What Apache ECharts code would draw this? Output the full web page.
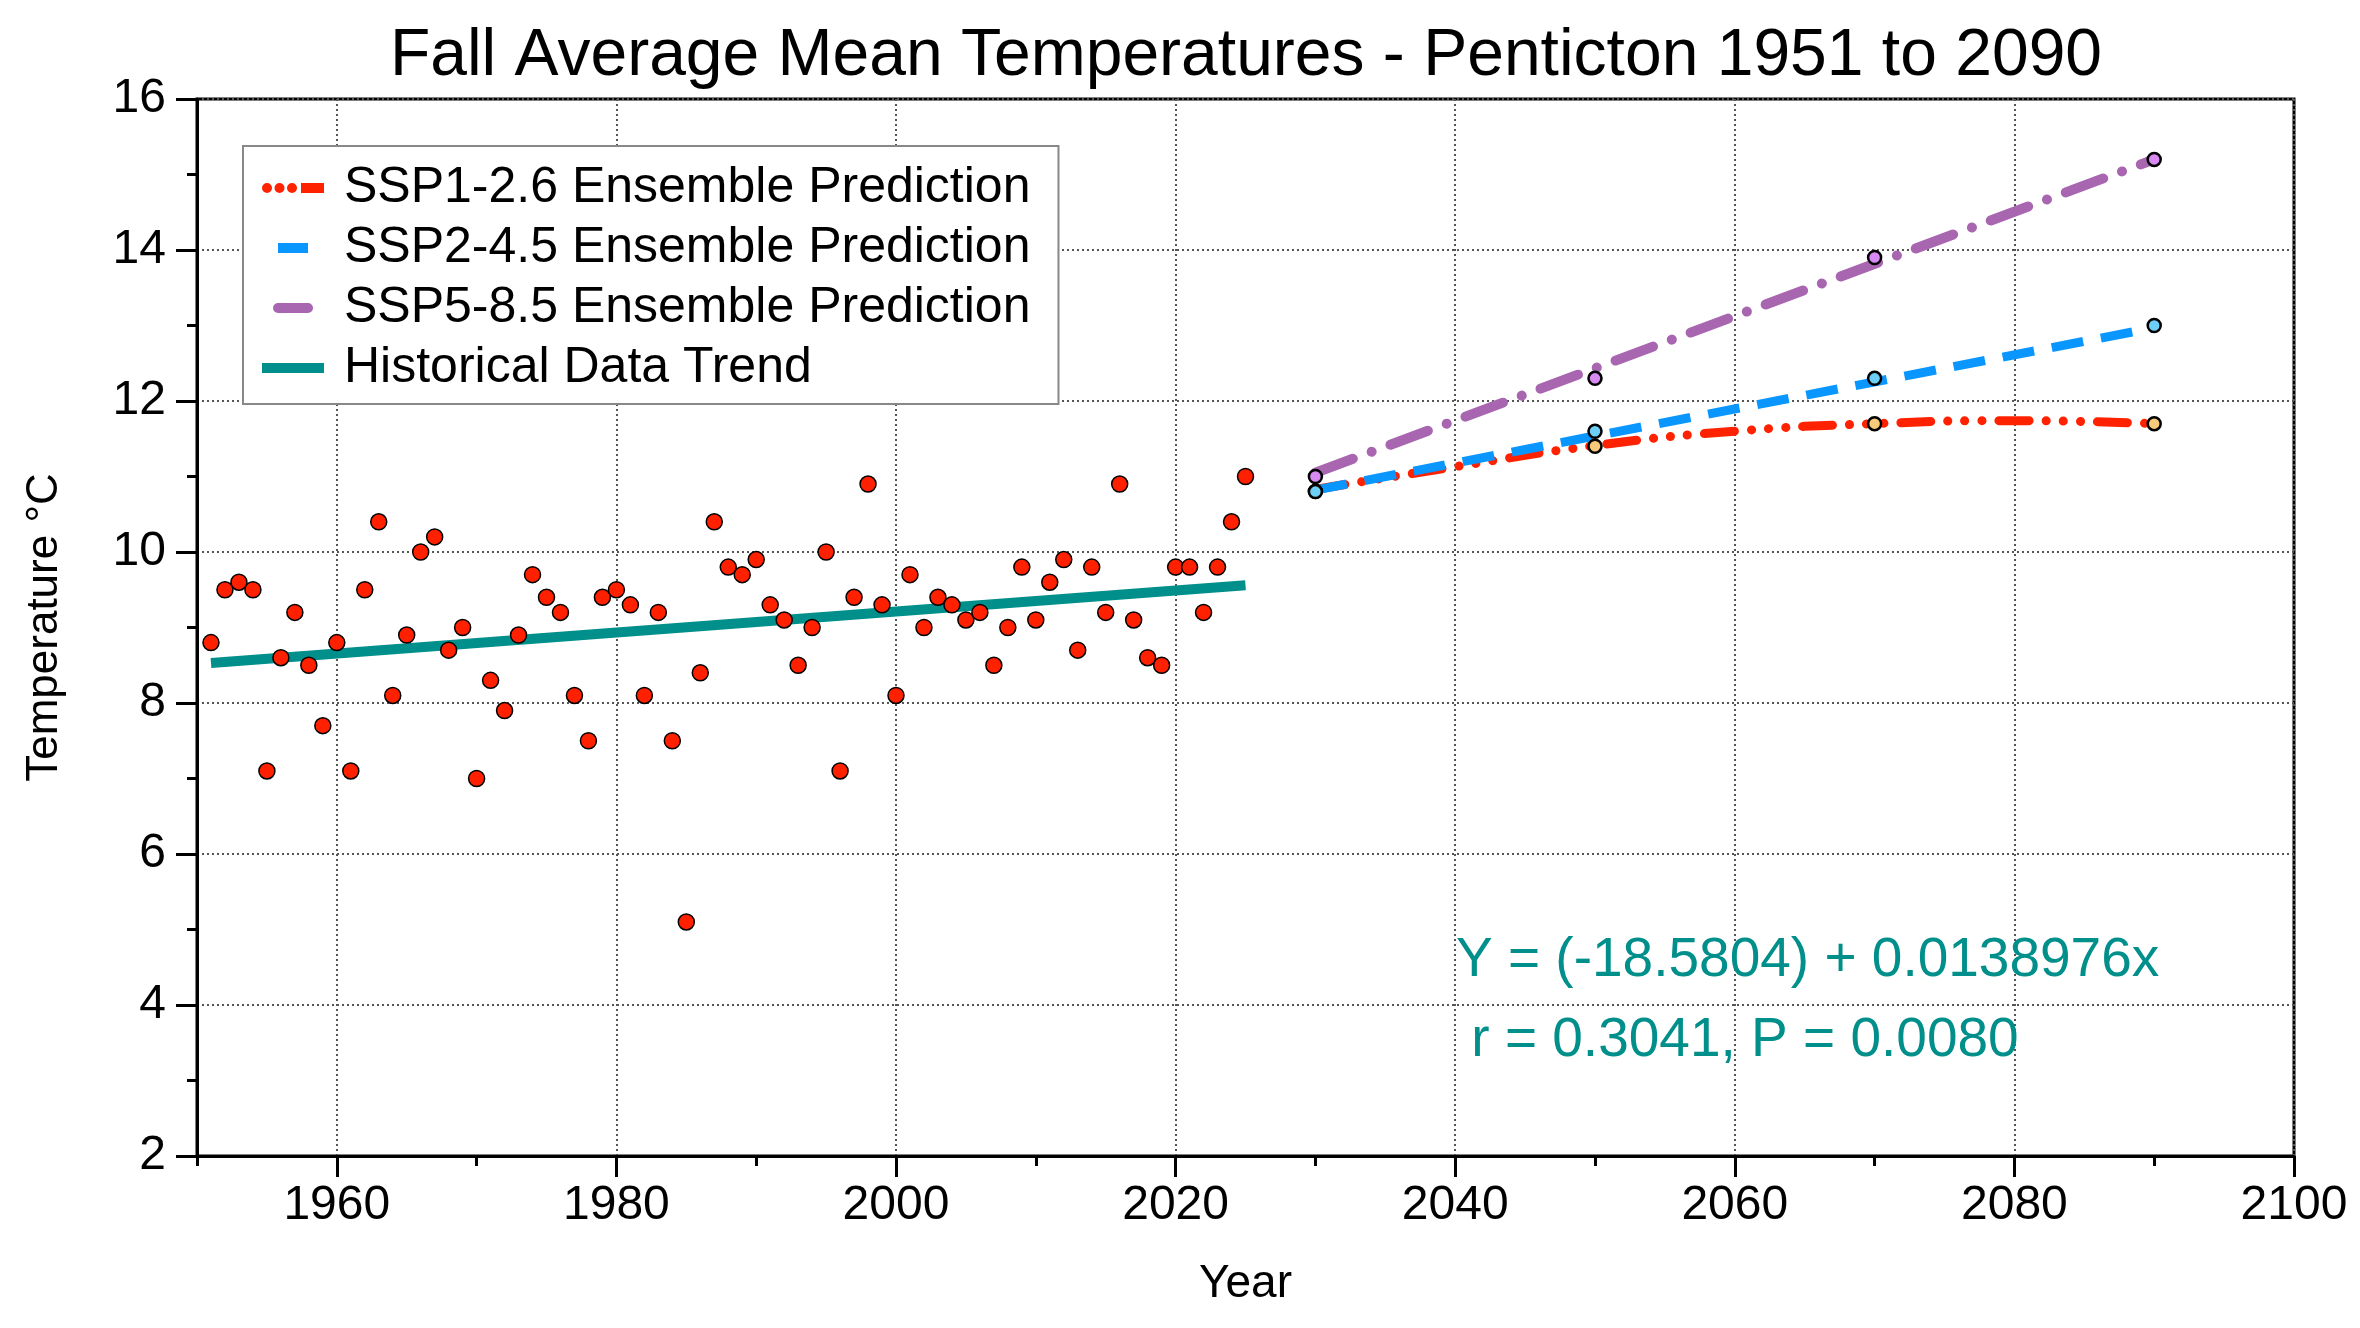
<!DOCTYPE html>
<html>
<head>
<meta charset="utf-8">
<style>
  html, body { margin: 0; padding: 0; background: #fff; }
  #chart { width: 2360px; height: 1328px; }
</style>
<script src="https://cdn.jsdelivr.net/npm/echarts@6/dist/echarts.min.js"></script>
</head>
<body>
<div id="chart"></div>
<script>
// ---------- data ----------
const histYears = [1951,1952,1953,1954,1955,1956,1957,1958,1959,1960,
  1961,1962,1963,1964,1965,1966,1967,1968,1969,1970,
  1971,1972,1973,1974,1975,1976,1977,1978,1979,1980,
  1981,1982,1983,1984,1985,1986,1987,1988,1989,1990,
  1991,1992,1993,1994,1995,1996,1997,1998,1999,2000,
  2001,2002,2003,2004,2005,2006,2007,2008,2009,2010,
  2011,2012,2013,2014,2015,2016,2017,2018,2019,2020,
  2021,2022,2023,2024,2025];
const histTemps = [8.8,9.5,9.6,9.5,7.1,8.6,9.2,8.5,7.7,8.8,
  7.1,9.5,10.4,8.1,8.9,10.0,10.2,8.7,9.0,7.0,
  8.3,7.9,8.9,9.7,9.4,9.2,8.1,7.5,9.4,9.5,
  9.3,8.1,9.2,7.5,5.1,8.4,10.4,9.8,9.7,9.9,
  9.3,9.1,8.5,9.0,10.0,7.1,9.4,10.9,9.3,8.1,
  9.7,9.0,9.4,9.3,9.1,9.2,8.5,9.0,9.8,9.1,
  9.6,9.9,8.7,9.8,9.2,10.9,9.1,8.6,8.5,9.8,
  9.8,9.2,9.8,10.4,11.0];

const trendYears = [1951, 2025];
const trendTemps = [8.53, 9.56];

const projYears = [2030, 2050, 2070, 2090];
const ssp126Points = [10.8, 11.4, 11.7, 11.7];
const ssp245Points = [10.8, 11.6, 12.3, 13.0];
const ssp585Points = [11.0, 12.3, 13.9, 15.2];

const ssp126FitYears = [2030, 2040, 2050, 2060, 2070, 2080, 2090];
const ssp126FitTemps = [10.83, 11.13, 11.41, 11.6, 11.7, 11.74, 11.7];
const ssp245FitYears = [2030, 2090];
const ssp245FitTemps = [10.82, 12.97];
const ssp585FitYears = [2030, 2090];
const ssp585FitTemps = [11.05, 15.2];

const xMajorTicks = [1960, 1980, 2000, 2020, 2040, 2060, 2080, 2100];

const titleText = 'Fall Average Mean Temperatures - Penticton 1951 to 2090';
const eqLine1 = 'Y = (-18.5804) + 0.0138976x';
const eqLine2 = ' r = 0.3041, P = 0.0080';

const names = {
  s1: 'SSP1-2.6 Ensemble Prediction',
  s2: 'SSP2-4.5 Ensemble Prediction',
  s5: 'SSP5-8.5 Ensemble Prediction',
  hist: 'Historical Data Trend'
};

// ---------- build ----------
const zip = (xs, ys) => xs.map((x, i) => [x, ys[i]]);
const FONT = "'Liberation Sans', Arial, Helvetica, sans-serif";

// legend icon shapes (62 x 10 box; tiny corner specks keep the full box)
const bounds = 'M0,0 L0.01,0 L0,0.01 Z M62,10 L61.99,10 L62,9.99 Z ';
const iconS1 = 'path://M0,5 a5,5 0 1,0 10,0 a5,5 0 1,0 -10,0 Z M12.5,5 a5,5 0 1,0 10,0 a5,5 0 1,0 -10,0 Z M25,5 a5,5 0 1,0 10,0 a5,5 0 1,0 -10,0 Z M39,0 L62,0 L62,10 L39,10 Z';
const iconS2 = 'path://' + bounds + 'M16,0 L46,0 L46,10 L16,10 Z';
const iconS5 = 'path://' + bounds + 'M16,0 L46,0 A5,5 0 0,1 46,10 L16,10 A5,5 0 0,1 16,0 Z';
const iconH = 'path://M0,0 L62,0 L62,10 L0,10 Z';

const chart = echarts.init(document.getElementById('chart'), null, { renderer: 'canvas' });

const gridLine = { color: '#555', width: 2, type: [2, 3] };

const option = {
  backgroundColor: '#fff',
  animation: false,
  textStyle: { fontFamily: FONT },
  grid: { left: 197, right: 66, top: 99, bottom: 172, show: true, borderColor: '#000', borderWidth: 3, backgroundColor: 'transparent' },
  legend: {
    orient: 'vertical',
    left: 243, top: 146,
    padding: [17, 28, 11, 19],
    itemGap: 10,
    itemWidth: 62, itemHeight: 10,
    backgroundColor: '#fff',
    borderColor: '#888', borderWidth: 2, borderRadius: 0,
    data: [
      { name: names.s1, icon: iconS1, itemStyle: { color: '#ff2200' } },
      { name: names.s2, icon: iconS2, itemStyle: { color: '#0a96ff' } },
      { name: names.s5, icon: iconS5, itemStyle: { color: '#a865b0' } },
      { name: names.hist, icon: iconH, itemStyle: { color: '#008f8a' } }
    ],
    textStyle: { fontSize: 50, lineHeight: 50, color: '#000', fontFamily: FONT, padding: [0, 0, 0, 15] }
  },
  xAxis: [{
    type: 'value', min: 1950, max: 2100, position: 'bottom',
    name: 'Year', nameLocation: 'middle', nameGap: 105,
    nameTextStyle: { fontSize: 46, color: '#000', fontFamily: FONT },
    axisLine: { show: true, onZero: false, lineStyle: { color: '#000', width: 3 } },
    axisTick: { show: true, inside: false, length: 21, lineStyle: { color: '#000', width: 3 }, customValues: xMajorTicks },
    axisLabel: { show: true, fontSize: 48, color: '#000', margin: 26, fontFamily: FONT, customValues: xMajorTicks,
      showMinLabel: true, showMaxLabel: true, formatter: v => String(v) },
    splitLine: { show: true, lineStyle: gridLine }
  }, {
    type: 'value', min: 1950, max: 2100, interval: 10, position: 'bottom',
    axisLine: { show: false },
    axisTick: { show: true, inside: false, length: 10, lineStyle: { color: '#000', width: 3 } },
    axisLabel: { show: false },
    splitLine: { show: false }
  }],
  yAxis: {
    type: 'value', min: 2, max: 16, interval: 2,
    name: 'Temperature °C', nameLocation: 'middle', nameGap: 130,
    nameTextStyle: { fontSize: 44, color: '#000', fontFamily: FONT },
    axisLine: { show: true, lineStyle: { color: '#000', width: 3 } },
    axisTick: { show: true, inside: false, length: 21, lineStyle: { color: '#000', width: 3 } },
    minorTick: { show: true, splitNumber: 2, length: 10, lineStyle: { color: '#000', width: 3 } },
    axisLabel: { fontSize: 48, color: '#000', margin: 31, fontFamily: FONT },
    splitLine: { show: true, lineStyle: gridLine }
  },
  series: [
    {
      name: names.hist, type: 'line', data: zip(trendYears, trendTemps),
      symbol: 'none', z: 3,
      lineStyle: { color: '#008f8a', width: 10, cap: 'butt' },
      itemStyle: { color: '#008f8a' }
    },
    {
      name: 'hist-points', type: 'scatter', data: zip(histYears, histTemps),
      symbol: 'circle', symbolSize: 16, z: 5,
      itemStyle: { color: '#ff2000', borderColor: '#000', borderWidth: 1.5, opacity: 1 }
    },
    {
      name: names.s1, type: 'line', data: zip(ssp126FitYears, ssp126FitTemps),
      symbol: 'none', smooth: true, z: 3,
      lineStyle: { color: '#ff2200', width: 9, cap: 'round', type: [30, 17, 0.1, 17, 0.1, 17, 0.1, 17] },
      itemStyle: { color: '#ff2200' }
    },
    {
      name: names.s2, type: 'line', data: zip(ssp245FitYears, ssp245FitTemps),
      symbol: 'none', z: 3,
      lineStyle: { color: '#0a96ff', width: 9, cap: 'butt', type: [32, 18] },
      itemStyle: { color: '#0a96ff' }
    },
    {
      name: names.s5, type: 'line', data: zip(ssp585FitYears, ssp585FitTemps),
      symbol: 'none', z: 3,
      lineStyle: { color: '#a865b0', width: 10, cap: 'round', type: [40, 20, 0.1, 20] },
      itemStyle: { color: '#a865b0' }
    },
    {
      name: 'ssp126-points', type: 'scatter', data: zip(projYears, ssp126Points),
      symbolSize: 13, z: 6,
      itemStyle: { color: '#f7c97a', borderColor: '#000', borderWidth: 2.5, opacity: 1 }
    },
    {
      name: 'ssp245-points', type: 'scatter', data: zip(projYears, ssp245Points),
      symbolSize: 13, z: 6,
      itemStyle: { color: '#6dcff6', borderColor: '#000', borderWidth: 2.5, opacity: 1 }
    },
    {
      name: 'ssp585-points', type: 'scatter', data: zip(projYears, ssp585Points),
      symbolSize: 13, z: 6,
      itemStyle: { color: '#d98af2', borderColor: '#000', borderWidth: 2.5, opacity: 1 }
    }
  ],
  graphic: [
    { type: 'text', x: 1246, y: 57, z: 10,
      style: { text: titleText, font: "66px " + FONT, fill: '#000', textAlign: 'center', textVerticalAlign: 'middle' } },
    { type: 'text', x: 1456, y: 961, z: 10,
      style: { text: eqLine1, font: "55px " + FONT, fill: '#008f8a', textAlign: 'left', textVerticalAlign: 'middle' } },
    { type: 'text', x: 1456, y: 1041, z: 10,
      style: { text: eqLine2, font: "55px " + FONT, fill: '#008f8a', textAlign: 'left', textVerticalAlign: 'middle' } }
  ]
};

chart.setOption(option);
</script>
</body>
</html>
